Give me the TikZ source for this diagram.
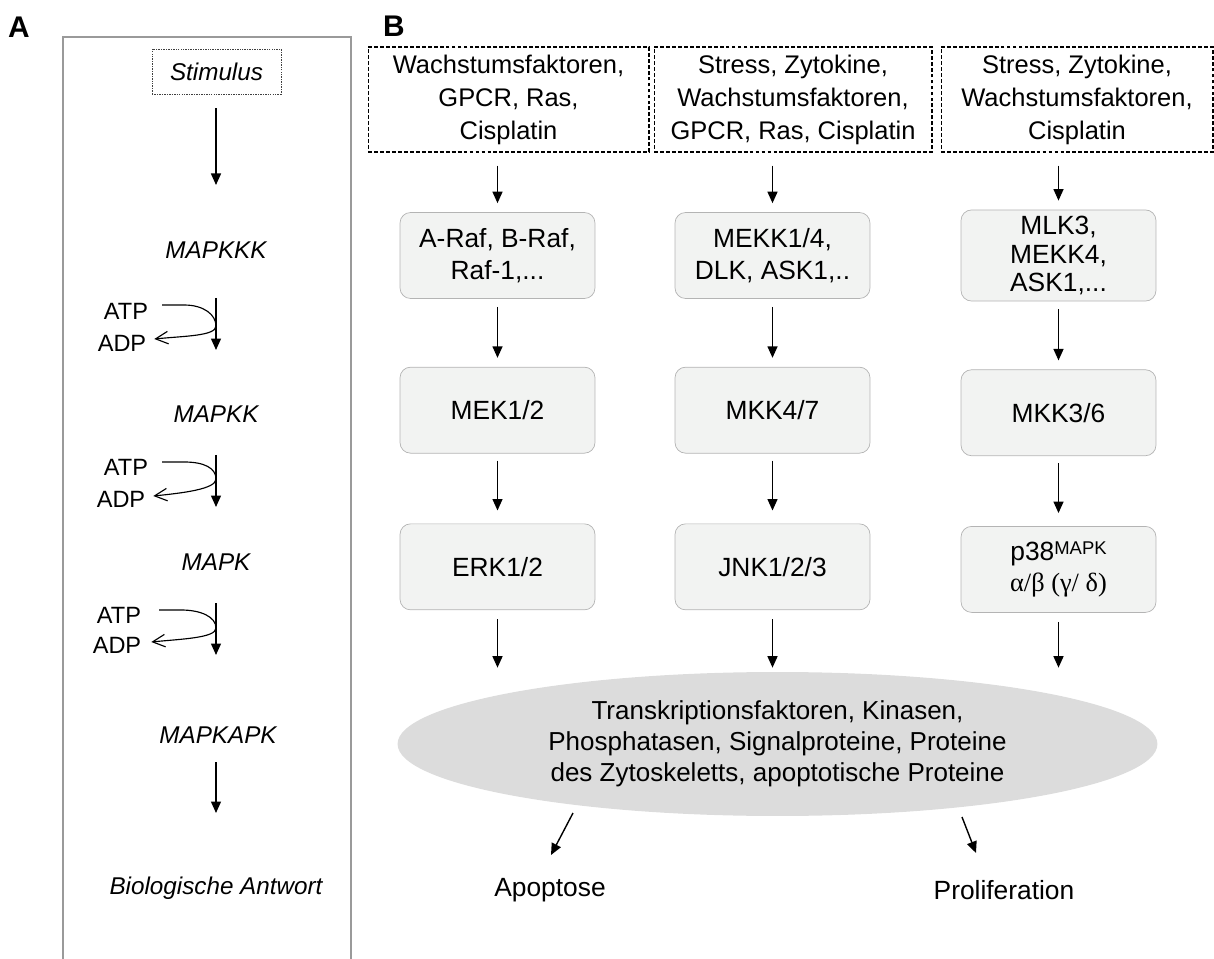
\documentclass[tikz,border=0pt]{standalone}
\usepackage{fontspec}
\setmainfont{Liberation Sans}
\newfontfamily\greekfont{Liberation Serif}
\usepackage{tikz}
\usetikzlibrary{arrows.meta,positioning,calc,shapes.geometric}

\definecolor{boxfill}{HTML}{F2F3F2}
\definecolor{boxline}{HTML}{B4B4B4}
\definecolor{ellfill}{HTML}{DCDCDC}
\definecolor{framegray}{HTML}{9A9A9A}

\begin{document}
\begin{tikzpicture}[x=0.02cm, y=-0.02cm,
  font=\fontsize{14.5}{18.8}\selectfont,
  srcbox/.style={rectangle, draw, dash pattern=on 2.2pt off 1.2pt, line width=0.6pt, minimum height=2.1cm, align=center},
  kbox/.style={rectangle, draw=boxline, fill=boxfill, rounded corners=6pt, minimum width=3.9cm, minimum height=1.72cm, align=center, font=\fontsize{15}{18.2}\selectfont},
  arrow/.style={-{Triangle[length=2.3mm, width=2mm]}, line width=0.8pt},
  barb/.style={-{Straight Barb[length=2.5mm, width=2.5mm]}, line width=0.65pt},
  lvl/.style={font=\fontsize{13.8}{16}\selectfont\itshape},
  pho/.style={font=\fontsize{13.4}{15}\selectfont, inner sep=1pt},
  panel/.style={font=\fontsize{17}{20}\selectfont\bfseries},
]
\useasboundingbox (0,0) rectangle (1214,959);

% panel labels
\node[panel] (labA) at (19,27) {A};
\node[panel] (labB) at (394,26) {B};

%% A: general cascade
\draw[framegray, line width=1.1pt] (63,959) -- (63,37) -- (351,37) -- (351,959);

\node[lvl, draw=black!75, dash pattern=on 0.8pt off 0.6pt, line width=0.4pt, minimum width=2.58cm, minimum height=0.9cm] (stim) at (216.5,71.5) {Stimulus};
\node[lvl] (mkkk) at (216,250) {MAPKKK};
\node[lvl] (mkk) at (216,414) {MAPKK};
\node[lvl] (mk) at (216,562) {MAPK};
\node[lvl] (mkapk) at (218,735) {MAPKAPK};
\node[lvl] (bio) at (216,888) {Biologische Antwort};

\node[pho] (atp1) at (126,311) {ATP};
\node[pho] (adp1) at (122,343) {ADP};
\node[pho] (atp2) at (126,467) {ATP};
\node[pho] (adp2) at (121,499) {ADP};
\node[pho] (atp3) at (119,615) {ATP};
\node[pho] (adp3) at (117,645) {ADP};

\draw[arrow] ($(stim.south -| mkkk)+(0,14)$) -- ($(mkkk)+(0,-65)$);
\draw[arrow] ($(mkkk)+(0,48)$) -- ($(mkkk |- mkk)+(0,-64)$);
\draw[arrow] ($(mkk)+(0,41)$) -- ($(mkk |- mk)+(0,-55)$);
\draw[arrow] ($(mk)+(0,41)$) -- ($(mk |- mkapk)+(0,-80)$);
\draw[arrow] ($(bio |- mkapk)+(0,27)$) -- ($(bio)+(0,-75)$);

% ATP -> ADP
\draw[barb] ($(atp1.east)+(12,-6)$) -- ++(22,0)
  .. controls +(20,0) and +(0,-11) .. ($(atp1 -| mkkk)+(0,15)$)
  .. controls +(0,10) and +(30,-3) .. ($(adp1.east)+(6,-4)$);
\draw[barb] ($(atp2.east)+(12,-5)$) -- ++(22,0)
  .. controls +(20,0) and +(0,-11) .. ($(atp2 -| mkk)+(0,12)$)
  .. controls +(0,10) and +(30,-3) .. ($(adp2.east)+(6,-3)$);
\draw[barb] ($(atp3.east)+(16,-5)$) -- ++(22,0)
  .. controls +(20,0) and +(0,-11) .. ($(atp3 -| mk)+(0,13)$)
  .. controls +(0,10) and +(30,-3) .. ($(adp3.east)+(8,-3)$);

%% B: the three MAPK modules
\node[srcbox, minimum width=5.62cm] (src1) at (508.5,99.5) {Wachstumsfaktoren,\\GPCR, Ras,\\Cisplatin};
\node[srcbox, minimum width=5.56cm] (src2) at (793,99.5) {Stress, Zytokine,\\Wachstumsfaktoren,\\GPCR, Ras, Cisplatin};
\node[srcbox, minimum width=5.44cm] (src3) at (1077,99.5) {Stress, Zytokine,\\Wachstumsfaktoren,\\Cisplatin};

\node[kbox] (raf) at (497.5,255.5) {A-Raf, B-Raf,\\Raf-1,...};
\node[kbox] (mekk) at (772.5,255.5) {MEKK1/4,\\DLK, ASK1,..};
\node[kbox, font=\fontsize{15}{16.4}\selectfont] (mlk) at (1058.5,255.5) {MLK3,\\MEKK4,\\ASK1,...};

\node[kbox, below=1.36cm of raf] (mek) {MEK1/2};
\node[kbox, below=1.36cm of mekk] (mkkb) {MKK4/7};
\node[kbox, below=1.36cm of mlk] (mkkc) {MKK3/6};

\node[kbox, below=1.4cm of mek] (erk) {ERK1/2};
\node[kbox, below=1.4cm of mkkb] (jnk) {JNK1/2/3};
\node[kbox, below=1.4cm of mkkc] (p38) {p38\raisebox{0.45ex}{\fontsize{10.5}{12}\selectfont MAPK}\\[-1pt]{\greekfont α/β (γ/ δ)}};

\node[ellipse, fill=ellfill, minimum width=15.2cm, minimum height=2.88cm, align=center, font=\fontsize{14.8}{17.6}\selectfont] (ell) at (777.5,744)
  {Transkriptionsfaktoren, Kinasen,\\Phosphatasen, Signalproteine, Proteine\\des Zytoskeletts, apoptotische Proteine};

\node[font=\fontsize{15}{18}\selectfont] (apo) at (550,890) {Apoptose};
\node[font=\fontsize{15}{18}\selectfont] (prolif) at (1004,890) {Proliferation};

\draw[arrow, shorten <=0.26cm, shorten >=0.18cm] (src1.south -| raf) -- (raf.north);
\draw[arrow, shorten <=0.26cm, shorten >=0.18cm] (src2.south -| mekk) -- (mekk.north);
\draw[arrow, shorten <=0.26cm, shorten >=0.18cm] (src3.south -| mlk) -- (mlk.north);

\draw[arrow, shorten <=0.16cm, shorten >=0.18cm] (raf) -- (mek);
\draw[arrow, shorten <=0.16cm, shorten >=0.18cm] (mekk) -- (mkkb);
\draw[arrow, shorten <=0.16cm, shorten >=0.18cm] (mlk) -- (mkkc);

\draw[arrow, shorten <=0.14cm, shorten >=0.26cm] (mek) -- (erk);
\draw[arrow, shorten <=0.14cm, shorten >=0.26cm] (mkkb) -- (jnk);
\draw[arrow, shorten <=0.14cm, shorten >=0.26cm] (mkkc) -- (p38);

\draw[arrow, shorten <=0.18cm, shorten >=0.08cm] (erk) -- (erk |- ell.north);
\draw[arrow, shorten <=0.18cm, shorten >=0.08cm] (jnk) -- (jnk |- ell.north);
\draw[arrow, shorten <=0.18cm, shorten >=0.08cm] (p38) -- (p38 |- ell.north);

\coordinate (apoS) at (573,813);
\coordinate (apoE) at (551,855);
\coordinate (proS) at (962,817);
\coordinate (proE) at (976,853);
\draw[arrow] (apoS) -- (apoE);
\draw[arrow] (proS) -- (proE);
\end{tikzpicture}
\end{document}
